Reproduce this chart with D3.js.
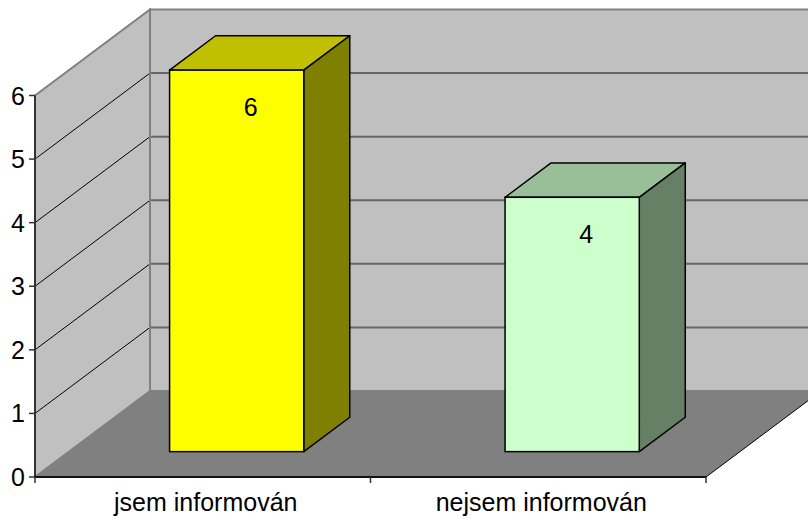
<!DOCTYPE html>
<html>
<head>
<meta charset="utf-8">
<script src="https://cdn.jsdelivr.net/npm/d3@7"></script>
<style>
  html, body { margin: 0; padding: 0; background: #ffffff; }
  svg { display: block; }
  text { font-family: "Liberation Sans", Arial, sans-serif; fill: #000; }
</style>
</head>
<body>
<svg id="chart" width="808" height="519"></svg>
<script>
// ---- data ----
const categories = ["jsem informován", "nejsem informován"];
const values = [6, 4];
const yTicks = [0, 1, 2, 3, 4, 5, 6];
const frontColors = ["#FFFF00", "#CCFFCC"];
const topColors = ["#C0C000", "#99BF99"];
const sideColors = ["#808000", "#668066"];

// ---- layout ----
const plotLeft = 35, plotRight = 706, plotBottom = 477, plotTop = 95.5;
const depthX = 115, depthY = 86;          // full depth of the 3D box
const barD0 = 0.295, barD1 = 0.695;       // bar position in depth (fraction)
const labelDepthShift = 14;
const fontSize = 25;

const svg = d3.select("#chart");

const x = d3.scaleBand().domain(categories).range([plotLeft, plotRight]).paddingInner(0).paddingOuter(0);
const y = d3.scaleLinear().domain([0, 6]).range([plotBottom, plotTop]);

const line = d3.line();
const poly = pts => line(pts) + "Z";

const y0 = y(0), yMax = y(6);
const bx0 = plotLeft + depthX, by = -depthY;
const backRight = plotRight + depthX;

// back wall
svg.append("path")
  .attr("d", poly([[bx0, yMax + by], [backRight, yMax + by], [backRight, y0 + by], [bx0, y0 + by]]))
  .attr("fill", "#C0C0C0").attr("stroke", "#808080").attr("stroke-width", 2);

// left wall
svg.append("path")
  .attr("d", poly([[plotLeft, yMax], [bx0, yMax + by], [bx0, y0 + by], [plotLeft, y0]]))
  .attr("fill", "#C0C0C0").attr("stroke", "#808080").attr("stroke-width", 2);

// floor
svg.append("path")
  .attr("d", poly([[plotLeft, y0], [bx0, y0 + by], [backRight, y0 + by], [plotRight, y0]]))
  .attr("fill", "#808080").attr("stroke", "none");
svg.append("path")
  .attr("d", line([[plotRight, y0], [backRight, y0 + by]]))
  .attr("fill", "none").attr("stroke", "#000").attr("stroke-width", 1);

// gridlines
const grid = yTicks.filter(v => v > 0 && v < 6);
svg.selectAll(".gl").data(grid).enter().append("line")
  .attr("x1", plotLeft).attr("y1", d => y(d)).attr("x2", bx0).attr("y2", d => y(d) + by)
  .attr("stroke", "#000").attr("stroke-width", 1);
svg.selectAll(".gb").data(grid).enter().append("line")
  .attr("x1", bx0).attr("y1", d => y(d) + by).attr("x2", backRight).attr("y2", d => y(d) + by)
  .attr("stroke", "#666").attr("stroke-width", 2);
svg.append("line").attr("x1", bx0).attr("x2", bx0).attr("y1", yMax + by).attr("y2", y0 + by)
  .attr("stroke", "#808080").attr("stroke-width", 2);

// y axis
svg.append("line").attr("x1", plotLeft).attr("x2", plotLeft).attr("y1", yMax).attr("y2", y0)
  .attr("stroke", "#333").attr("stroke-width", 2);
svg.selectAll(".yt").data(yTicks).enter().append("line")
  .attr("x1", plotLeft - 6).attr("x2", plotLeft).attr("y1", d => y(d)).attr("y2", d => y(d))
  .attr("stroke", "#333").attr("stroke-width", 1.5);
svg.selectAll(".yl").data(yTicks).enter().append("text")
  .attr("x", plotLeft - 10).attr("y", d => y(d)).attr("dy", "0.36em")
  .attr("text-anchor", "end").attr("font-size", fontSize).text(d => d);

// x axis
svg.append("line").attr("x1", plotLeft).attr("x2", plotRight).attr("y1", y0).attr("y2", y0)
  .attr("stroke", "#111").attr("stroke-width", 2);
const xTickPos = [plotLeft].concat(categories.map(c => x(c) + x.bandwidth()));
svg.selectAll(".xt").data(xTickPos).enter().append("line")
  .attr("x1", d => d).attr("x2", d => d).attr("y1", y0).attr("y2", y0 + 6)
  .attr("stroke", "#333").attr("stroke-width", 1.5);
svg.selectAll(".xl").data(categories).enter().append("text")
  .attr("x", d => x(d) + x.bandwidth() / 2 + 3).attr("y", 510.5)
  .attr("text-anchor", "middle").attr("font-size", fontSize).text(d => d);

// bars
const bw = x.bandwidth() * 0.4;
const ox = barD0 * depthX, oy = -barD0 * depthY;
const bdx = (barD1 - barD0) * depthX, bdy = (barD1 - barD0) * depthY;

categories.forEach((c, i) => {
  const v = values[i];
  const xa = x(c) + x.bandwidth() / 2 - bw / 2 + ox;
  const xb = xa + bw;
  const yt = y(v) + oy, yb = y(0) + oy;
  const g = svg.append("g");
  g.append("path").attr("d", poly([[xa, yt], [xa + bdx, yt - bdy], [xb + bdx, yt - bdy], [xb, yt]]))
    .attr("fill", topColors[i]).attr("stroke", "#000").attr("stroke-width", 1.5).attr("stroke-linejoin", "round");
  g.append("path").attr("d", poly([[xb, yt], [xb + bdx, yt - bdy], [xb + bdx, yb - bdy], [xb, yb]]))
    .attr("fill", sideColors[i]).attr("stroke", "#000").attr("stroke-width", 1.5).attr("stroke-linejoin", "round");
  g.append("rect").attr("x", xa).attr("y", yt).attr("width", bw).attr("height", yb - yt)
    .attr("fill", frontColors[i]).attr("stroke", "#000").attr("stroke-width", 1.5);
  g.append("text").attr("x", (xa + xb) / 2 + labelDepthShift).attr("y", yt + 37).attr("dy", "0.36em")
    .attr("text-anchor", "middle").attr("font-size", fontSize).text(v);
});
</script>
</body>
</html>
